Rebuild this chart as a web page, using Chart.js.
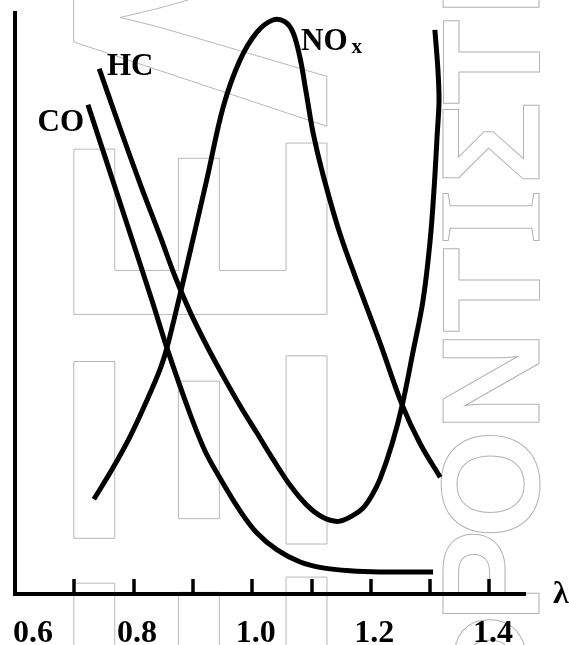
<!DOCTYPE html>
<html lang="en">
<head>
	<meta charset="utf-8">
	<title>CO HC NOx</title>
	<style>
html, body {
	margin: 0;
	padding: 0;
	background: #fff;
}
#chartWrapper {
	width: 569px;
	height: 645px;
}
	</style>
</head>
<body>

<div id="chartWrapper">
  <canvas id="myChart"></canvas>
</div>

<script src="https://cdn.jsdelivr.net/npm/chart.js"></script>
<script>
// values: x = lambda, y = relative level (0..100)
const coX = [0.723, 0.777, 0.831, 0.856, 0.893, 0.920, 0.946, 0.979, 1.008, 1.042, 1.081, 1.119, 1.165, 1.216, 1.305];
const coY = [84.2, 67.4, 50.5, 42.4, 31.6, 24.7, 19.9, 14.4, 10.5, 7.6, 5.5, 4.5, 4.0, 3.8, 3.8];

const hcX = [0.742, 0.777, 0.811, 0.845, 0.870, 0.895, 0.924, 0.951, 0.979, 1.008, 1.035, 1.064, 1.092, 1.119, 1.145, 1.168, 1.187, 1.202, 1.216, 1.236, 1.253, 1.271, 1.288, 1.300, 1.307, 1.312, 1.315, 1.313, 1.308];
const hcY = [90.4, 80.2, 70.6, 61.5, 54.6, 48.6, 42.6, 37.5, 32.5, 27.7, 23.2, 18.7, 15.3, 13.2, 12.5, 13.4, 14.8, 17.0, 19.9, 25.9, 32.5, 41.6, 50.5, 60.8, 70.3, 79.2, 84.9, 90.5, 97.1];

const noxX = [0.733, 0.764, 0.794, 0.824, 0.845, 0.856, 0.878, 0.895, 0.924, 0.951, 0.979, 1.008, 1.035, 1.055, 1.069, 1.081, 1.091, 1.103, 1.119, 1.148, 1.187, 1.216, 1.253, 1.283, 1.317];
const noxY = [16.3, 21.5, 27.1, 33.7, 38.8, 42.3, 51.4, 58.8, 71.6, 83.8, 91.8, 96.7, 98.8, 98.5, 96.6, 92.1, 86.3, 79.2, 72.3, 62.0, 51.0, 43.1, 32.5, 25.9, 20.1];

const seriesNames = ['CO', 'HC', 'NOx'];
const tickValues = [0.7, 0.8, 0.9, 1.0, 1.1, 1.2, 1.3, 1.4];
const labelValues = [0.6, 0.8, 1.0, 1.2, 1.4];
const tickLabels = ['0.6', '0.8', '1.0', '1.2', '1.4'];
const axisName = 'λ';

// where the curve names sit (pixels)
const namePos = {
	CO: {x: 84, y: 131, align: 'right'},
	HC: {x: 107, y: 75, align: 'left'},
	NOx: {x: 301, y: 50, align: 'left'}
};

// background lettering: character, centre along the page (px), squeeze
const markRight = [['Φ', 673], ['Ρ', 576], ['Ο', 484], ['Ν', 381], ['Τ', 290], ['Ι', 217], ['Σ', 143], ['Τ', 62], ['Η', -34]];
const markLeft = [['Ε', 667, 0.83], ['Ξ', 450, 0.91], ['Ε', 233, 0.83], ['Λ', 18, 0.9]];

function toPoints(xs, ys) {
	return xs.map((x, i) => ({x: x, y: ys[i]}));
}

function outlineLetter(ctx, ch, bx, cy, sx) {
	ctx.save();
	ctx.translate(bx, cy);
	ctx.rotate(-Math.PI / 2);
	ctx.scale(sx, 1);
	ctx.textAlign = 'center';
	ctx.textBaseline = 'alphabetic';
	ctx.strokeText(ch, 0, 0);
	ctx.restore();
}

// faint outlined lettering in the background
const watermark = {
	id: 'watermark',
	beforeDraw(chart) {
		const ctx = chart.ctx;
		ctx.save();
		ctx.strokeStyle = '#b3b3b3';
		ctx.lineWidth = 1;
		for (let [ch, c] of markRight) {
			ctx.font = ch === 'Ι' ? 'bold 146px "Liberation Serif"' : 'bold 140px "Liberation Sans"';
			outlineLetter(ctx, ch, 539, c, 1);
		}
		ctx.font = 'bold 368px "Liberation Sans"';
		for (let [ch, c, s] of markLeft) {
			outlineLetter(ctx, ch, 327, c, s);
		}
		ctx.restore();
	}
};

// inward tick marks, bold labels, curve names
const axisMarks = {
	id: 'axisMarks',
	afterDraw(chart) {
		const ctx = chart.ctx;
		const xs = chart.scales.x;
		const bottom = chart.chartArea.bottom;
		ctx.save();
		ctx.strokeStyle = '#000';
		ctx.lineWidth = 3.5;
		for (let v of tickValues) {
			const px = Math.round(xs.getPixelForValue(v));
			ctx.beginPath();
			ctx.moveTo(px, bottom);
			ctx.lineTo(px, bottom - 15);
			ctx.stroke();
		}

		ctx.fillStyle = '#000';
		ctx.font = 'bold 32px "Liberation Serif"';
		ctx.textBaseline = 'alphabetic';
		labelValues.forEach((v, i) => {
			const px = xs.getPixelForValue(v);
			if (i === 0) {
				ctx.textAlign = 'left';
				ctx.fillText(tickLabels[i], px - 2, 642);
			} else {
				ctx.textAlign = 'center';
				ctx.fillText(tickLabels[i], px + 3.5, 642);
			}
		});
		ctx.textAlign = 'left';
		ctx.fillText(axisName, 553, 603);

		ctx.font = 'bold 31px "Liberation Serif"';
		for (let name of seriesNames) {
			const p = namePos[name];
			ctx.textAlign = p.align;
			if (name === 'NOx') {
				ctx.fillText('NO', p.x, p.y);
				const w = ctx.measureText('NO').width;
				ctx.font = 'bold 21px "Liberation Serif"';
				ctx.fillText('x', p.x + w + 4, p.y + 3);
				ctx.font = 'bold 31px "Liberation Serif"';
			} else {
				ctx.fillText(name, p.x, p.y);
			}
		}
		ctx.restore();
	}
};

function init() {
	const ctx = document.getElementById('myChart');
	const line = {
		borderColor: '#000',
		borderWidth: 5,
		pointRadius: 0,
		fill: false,
		tension: 0.35
	};

	new Chart(ctx, {
		type: 'line',
		data: {
			datasets: [
				Object.assign({label: seriesNames[0], data: toPoints(coX, coY)}, line),
				Object.assign({label: seriesNames[1], data: toPoints(hcX, hcY)}, line),
				Object.assign({label: seriesNames[2], data: toPoints(noxX, noxY)}, line)
			]
		},
		options: {
			responsive: true,
			maintainAspectRatio: false,
			animation: false,
			layout: {
				padding: {left: 15, right: 44, top: 13, bottom: 51}
			},
			plugins: {
				legend: {display: false},
				tooltip: {enabled: false}
			},
			scales: {
				x: {
					type: 'linear',
					min: 0.6,
					max: 1.46,
					ticks: {display: false},
					grid: {display: false, drawTicks: false},
					border: {display: true, color: '#000', width: 4}
				},
				y: {
					min: 0,
					max: 100,
					ticks: {display: false},
					grid: {display: false, drawTicks: false},
					border: {display: true, color: '#000', width: 4}
				}
			}
		},
		plugins: [watermark, axisMarks]
	});
}

document.addEventListener('DOMContentLoaded', init, false);
</script>
</body>
</html>
